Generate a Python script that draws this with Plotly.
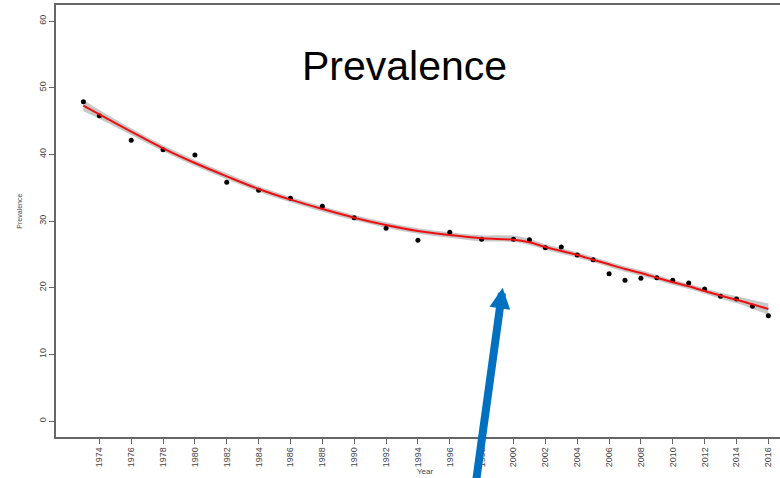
import plotly.graph_objects as go

years = [1973, 1974, 1976, 1978, 1980, 1982, 1984, 1986, 1988, 1990, 1992, 1994, 1996, 1998,
         2000, 2001, 2002, 2003, 2004, 2005, 2006, 2007, 2008, 2009, 2010, 2011, 2012, 2013,
         2014, 2015, 2016]
prevalence = [47.9, 45.8, 42.1, 40.7, 39.9, 35.8, 34.6, 33.4, 32.2, 30.5, 28.9, 27.1, 28.3, 27.25,
              27.25, 27.2, 26.0, 26.1, 24.9, 24.2, 22.1, 21.1, 21.4, 21.5, 21.1, 20.7, 19.8, 18.7,
              18.3, 17.2, 15.8]
fit = [47.3, 46.0, 43.4, 40.9, 38.7, 36.7, 34.8, 33.2, 31.8, 30.5, 29.4, 28.5, 27.9, 27.4,
       27.2, 26.8, 26.1, 25.5, 24.9, 24.2, 23.5, 22.8, 22.2, 21.5, 20.8, 20.2, 19.5, 18.8,
       18.2, 17.5, 16.8]
band_hi = [48.15, 46.65, 43.9, 41.35, 39.15, 37.15, 35.2, 33.6, 32.2, 30.9, 29.8, 28.9, 28.3, 27.85,
           27.8, 27.35, 26.5, 25.9, 25.3, 24.6, 23.9, 23.2, 22.6, 21.9, 21.2, 20.6, 19.9, 19.25,
           18.7, 18.15, 17.65]
band_lo = [46.45, 45.35, 42.9, 40.45, 38.25, 36.25, 34.4, 32.8, 31.4, 30.1, 29.0, 28.1, 27.5, 26.95,
           26.85, 26.4, 25.7, 25.1, 24.5, 23.8, 23.1, 22.4, 21.8, 21.1, 20.4, 19.8, 19.1, 18.35,
           17.7, 16.85, 15.95]
x_ticks = list(range(1974, 2017, 2))
y_ticks = [0, 10, 20, 30, 40, 50, 60]

FONT = "Liberation Sans, Arial, Helvetica, sans-serif"

fig = go.Figure()
fig.add_trace(go.Scatter(x=years, y=band_hi, mode="lines", line=dict(width=0, shape="spline"),
                         hoverinfo="skip", showlegend=False))
fig.add_trace(go.Scatter(x=years, y=band_lo, mode="lines", line=dict(width=0, shape="spline"),
                         fill="tonexty", fillcolor="rgba(185,185,185,0.8)",
                         hoverinfo="skip", showlegend=False))
fig.add_trace(go.Scatter(x=years, y=prevalence, mode="markers",
                         marker=dict(color="black", size=5), showlegend=False))
fig.add_trace(go.Scatter(x=years, y=fit, mode="lines",
                         line=dict(color="#ee1010", width=2, shape="spline"), showlegend=False))

fig.update_layout(
    width=780, height=478,
    margin=dict(l=56, r=0, t=5, b=41, autoexpand=False),
    paper_bgcolor="white", plot_bgcolor="white",
    font=dict(family=FONT, color="#444"),
    xaxis=dict(range=[1971.28, 2016.73], tickvals=x_ticks, ticktext=[str(t) for t in x_ticks],
               tickangle=-90, ticks="outside", ticklen=5, tickcolor="#666", tickwidth=1,
               tickfont=dict(size=9, color="#444"), showgrid=False, zeroline=False,
               showline=True, linecolor="#666", linewidth=1.5, mirror=True, automargin=False),
    yaxis=dict(range=[-2.4, 62.4], tickvals=y_ticks, tickangle=-90, ticks="outside", ticklen=5,
               tickcolor="#666", tickwidth=1, tickfont=dict(size=9, color="#444"),
               showgrid=False, zeroline=False, showline=True, linecolor="#666", linewidth=1.5,
               automargin=False),
    annotations=[
        dict(text="Prevalence", x=1993.13, y=53.3, xref="x", yref="y", showarrow=False,
             font=dict(size=41, color="black", family=FONT), xanchor="center", yanchor="middle"),
        dict(text="Year", x=1994.48, y=-0.08, xref="x", yref="paper", showarrow=False,
             font=dict(size=8, color="#444", family=FONT), xanchor="center", yanchor="middle"),
        dict(text="Prevalence", x=-0.0497, y=31.4, xref="paper", yref="y", showarrow=False,
             textangle=-90, font=dict(size=7, color="#444", family=FONT),
             xanchor="center", yanchor="middle"),
        dict(text="", x=1999.32, y=20.0, xref="x", yref="y", ax=1997.59, ay=-10.1,
             axref="x", ayref="y", showarrow=True, arrowhead=2, arrowsize=0.52,
             arrowwidth=8, arrowcolor="#0070C0"),
    ],
)

fig.write_html("out.html", config={"displayModeBar": False},
               post_script="document.body.style.margin='0';document.body.style.overflow='hidden';")
